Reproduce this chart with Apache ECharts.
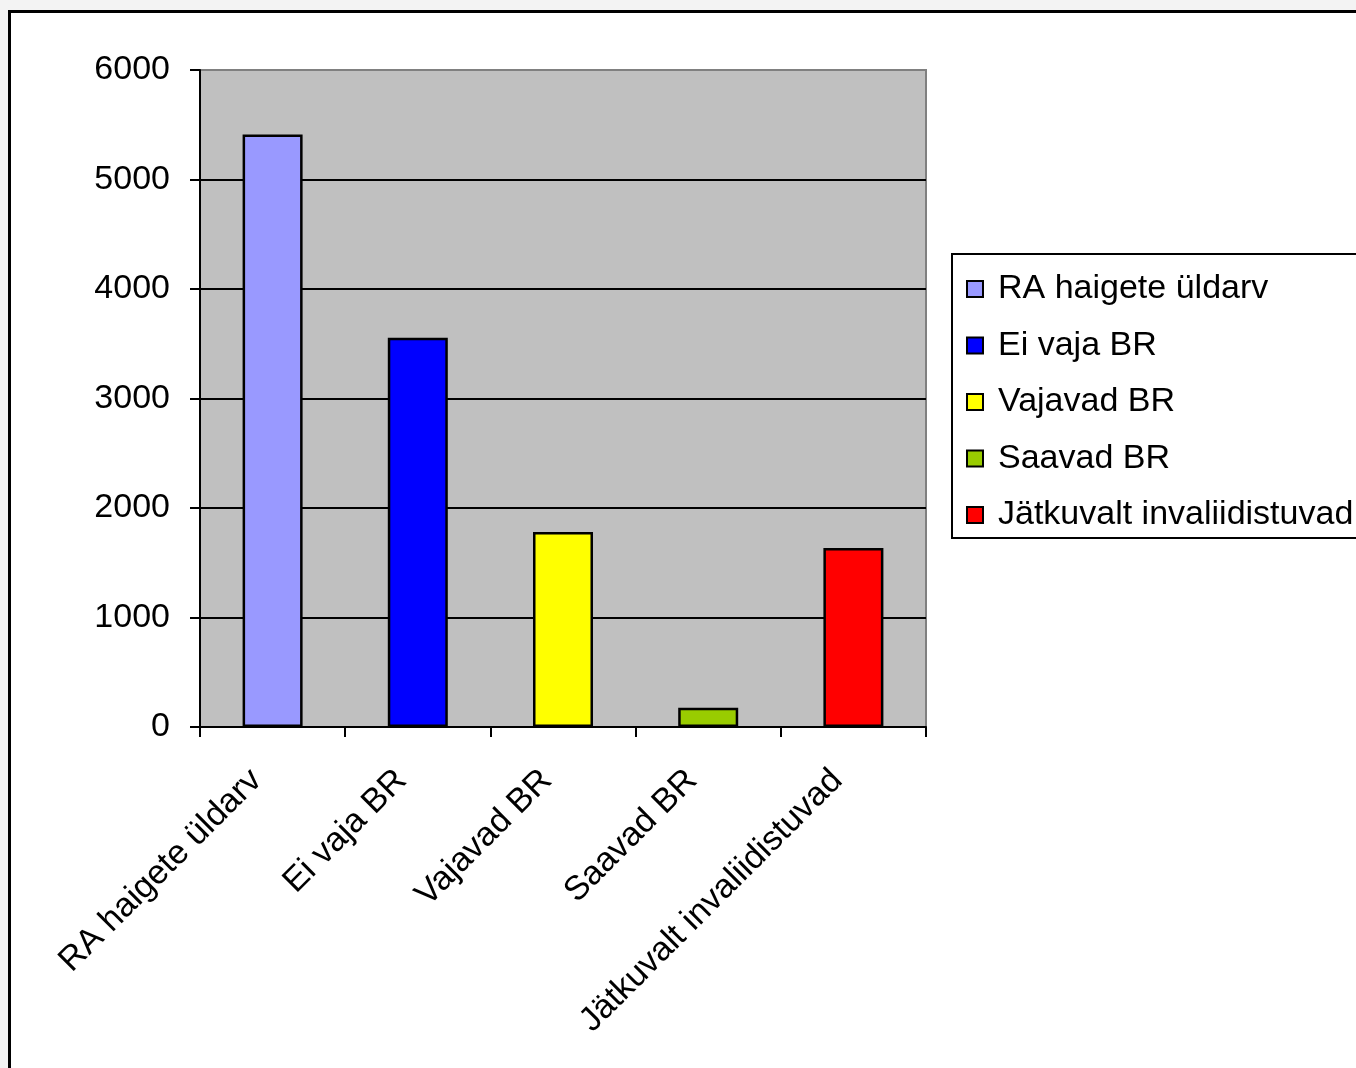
<!DOCTYPE html>
<html>
<head>
<meta charset="utf-8">
<script src="https://cdn.jsdelivr.net/npm/echarts@6/dist/echarts.min.js"></script>
<style>
html,body{margin:0;padding:0;background:#f3f3f3;overflow:hidden;}
#c{width:1356px;height:1068px;}
</style>
</head>
<body>
<div id="c"></div>
<script>
const categories = ['RA haigete üldarv', 'Ei vaja BR', 'Vajavad BR', 'Saavad BR', 'Jätkuvalt invaliidistuvad'];
const values = [5410, 3555, 1780, 175, 1635];
const colors = ['#9999ff', '#0000ff', '#ffff00', '#99cc00', '#ff0000'];
const yTicks = [0, 1000, 2000, 3000, 4000, 5000, 6000];

const FONT = '"Liberation Sans", Arial, sans-serif';
const chart = echarts.init(document.getElementById('c'));

const series = categories.map((name, i) => ({
  name: name,
  type: 'bar',
  stack: 'all',
  barWidth: 60,
  data: categories.map((c, j) => (j === i ? values[i] : null)),
  itemStyle: { color: colors[i], borderColor: '#000', borderWidth: 2.5 },
  emphasis: { disabled: true }
}));

chart.setOption({
  animation: false,
  backgroundColor: '#f3f3f3',
  graphic: [{
    type: 'rect', z: -10, silent: true,
    shape: { x: 9.5, y: 11.5, width: 1400, height: 1100 },
    style: { fill: '#fff', stroke: '#000', lineWidth: 3 }
  }],
  grid: {
    left: 200, right: 430, top: 70, bottom: 341,
    show: true, backgroundColor: '#c0c0c0', borderColor: '#808080', borderWidth: 2
  },
  legend: {
    orient: 'vertical',
    left: 952, top: 254,
    padding: [17, 14, 5, 14],
    itemGap: 20.5,
    itemWidth: 16, itemHeight: 16,
    icon: 'rect',
    itemStyle: { borderColor: '#000', borderWidth: 2 },
    backgroundColor: '#fff', borderColor: '#000', borderWidth: 2,
    textStyle: { fontFamily: FONT, fontSize: 34, color: '#000', lineHeight: 36, padding: [0, 0, 0, 10] },
    data: categories
  },
  xAxis: {
    type: 'category',
    data: categories,
    axisLine: { lineStyle: { color: '#000', width: 2 } },
    axisTick: { show: true, length: 10, lineStyle: { color: '#000', width: 2 } },
    axisLabel: { rotate: 45, margin: 56, verticalAlign: 'bottom', padding: [0, 6, 0, 0], fontFamily: FONT, fontSize: 34, color: '#000', interval: 0 }
  },
  yAxis: {
    type: 'value',
    min: yTicks[0], max: yTicks[yTicks.length - 1], interval: 1000,
    axisLine: { show: true, lineStyle: { color: '#000', width: 2 } },
    axisTick: { show: true, length: 10, lineStyle: { color: '#000', width: 2 } },
    axisLabel: { margin: 30, fontFamily: FONT, fontSize: 34, color: '#000', formatter: v => String(v) },
    splitLine: { show: true, lineStyle: { color: ['#000', '#000', '#000', '#000', '#000', '#000', '#808080'], width: 2 } }
  },
  series: series
});
</script>
</body>
</html>
